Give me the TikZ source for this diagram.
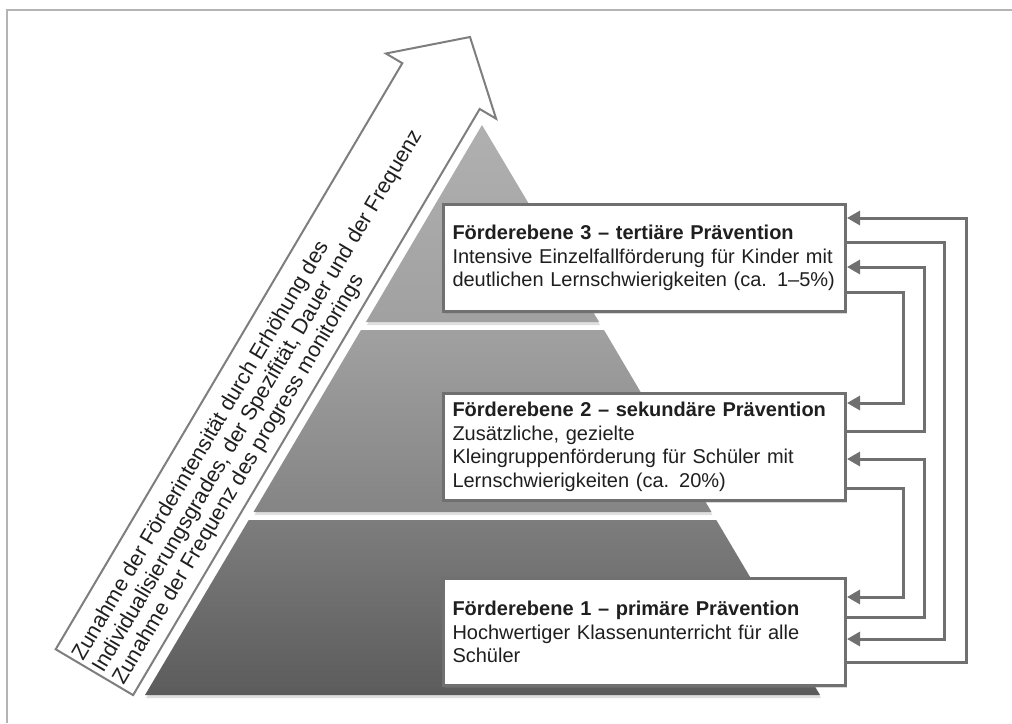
\documentclass[tikz,border=0pt]{standalone}
\usepackage{fontspec}
\setmainfont{Liberation Sans}
\usetikzlibrary{arrows.meta,shadows}
\definecolor{rahmen}{HTML}{B4B4B4}
\definecolor{linie}{HTML}{707070}
\tikzset{
  ebene/.style={drop shadow={shadow xshift=1pt,shadow yshift=-3pt,opacity=.25}},
  kasten/.style={draw=linie, line width=3pt, fill=white, anchor=north west,
    text width=384pt, inner xsep=9pt, inner ysep=0pt, minimum height=107pt,
    align=left, text=black!88, font=\fontsize{20}{23.5}\selectfont,
    drop shadow={shadow xshift=1.5pt,shadow yshift=-2pt,opacity=.3}},
  pfeil/.style={draw=linie, line width=3pt, -{Triangle[length=13pt,width=14pt]}}
}
\begin{document}
\begin{tikzpicture}[x=1pt,y=-1pt]
  \useasboundingbox (0,0) rectangle (1012,723);
  \draw[rahmen, line width=1.5pt] (7,723) -- (7,10) -- (1012,10);
  \shade[ebene, top color=black!31, bottom color=black!37] (482,125) -- (599.1,322) -- (365.9,322) -- cycle;
  \shade[ebene, top color=black!37, bottom color=black!48] (361,330) -- (604,330) -- (711.5,512) -- (253.5,512) -- cycle;
  \shade[ebene, top color=black!51, bottom color=black!64] (248.7,520) -- (716.3,520) -- (820,695) -- (145,695) -- cycle;
  \draw[linie!90, line width=2pt, fill=white] (470,37) -- (496.1,118.7) -- (479.7,109) -- (133.1,695.1)
    -- (55.7,649.3) -- (402.3,63.2) -- (385.9,53.5) -- cycle;
  \node[rotate=59.4, anchor=west, align=left, inner sep=3pt, text=black!88,
    font=\fontsize{21.5}{23.5}\selectfont] (zunahme) at (97,673.7)
    {Zunahme der Förderintensität durch Erhöhung des\\
     Individualisierungsgrades, der Spezifität, Dauer und der Frequenz\\
     Zunahme der Frequenz des progress monitorings};
  \node[kasten] (ebene3) at (442,203)
    {\textbf{Förderebene 3 – tertiäre Prävention}\\
     Intensive Einzelfallförderung für Kinder mit\\
     deutlichen Lernschwierigkeiten (ca. 1–5\%)};
  \node[kasten] (ebene2) at (442,392)
    {\textbf{Förderebene 2 – sekundäre Prävention}\\
     Zusätzliche, gezielte\\
     Kleingruppenförderung für Schüler mit\\
     Lernschwierigkeiten (ca. 20\%)};
  \node[kasten] (ebene1) at (442,577)
    {\textbf{Förderebene 1 – primäre Prävention}\\
     Hochwertiger Klassenunterricht für alle\\
     Schüler};
  \foreach \von/\ya/\nach/\yb/\xl in {ebene1/662/ebene3/218/966, ebene3/242/ebene1/639/944,
      ebene2/431/ebene3/267/924, ebene3/292/ebene2/403/903,
      ebene1/617/ebene2/459/924, ebene2/488/ebene1/597/903}
    \draw[pfeil] (\von.east |- 0,\ya) -| (\xl,\yb) -- (\nach.east |- 0,\yb);
\end{tikzpicture}
\end{document}
